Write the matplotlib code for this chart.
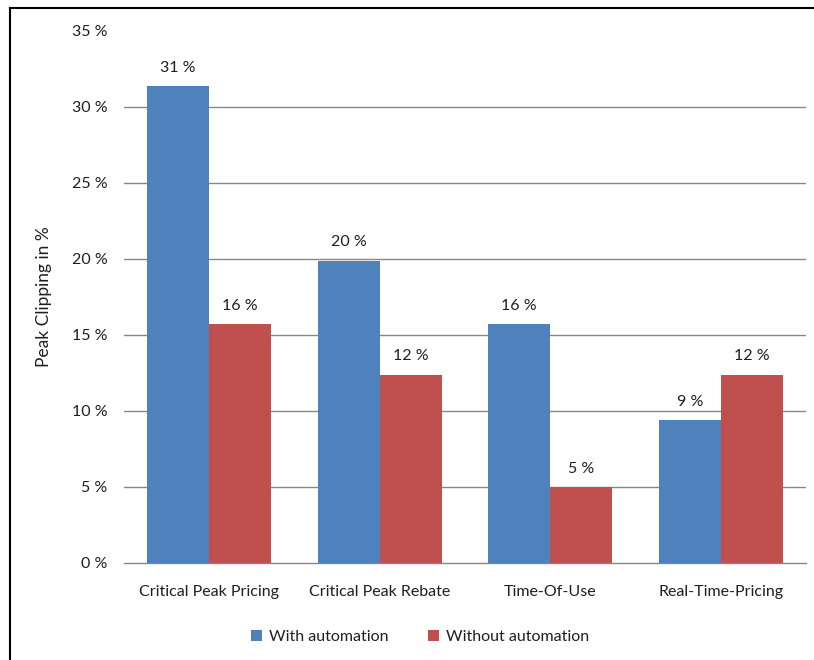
import matplotlib
matplotlib.use("Agg")
import matplotlib.pyplot as plt
from matplotlib.lines import Line2D
from matplotlib.patches import Patch
import numpy as np

plt.rcParams['font.family'] = ['Lato', 'DejaVu Sans']

categories = ["Critical Peak Pricing", "Critical Peak Rebate", "Time-Of-Use", "Real-Time-Pricing"]
with_automation = [31.4, 19.9, 15.7, 9.4]
without_automation = [15.7, 12.4, 5.0, 12.4]
series_names = ["With automation", "Without automation"]
y_ticks = [0, 5, 10, 15, 20, 25, 30, 35]

blue = "#4F81BD"
red = "#C0504D"
text_color = "#1f1f1f"
grid_color = "#868686"

fig = plt.figure(figsize=(8.14, 6.60), dpi=100)
ax = fig.add_axes([124 / 814, (660 - 563) / 660, (806 - 124) / 814, (563 - 31) / 660])

x = np.arange(len(categories))
w = 1 / 2.75
b1 = ax.bar(x - w / 2, with_automation, width=w, color=blue, zorder=3)
b2 = ax.bar(x + w / 2, without_automation, width=w, color=red, zorder=3)

for bars, vals in ((b1, with_automation), (b2, without_automation)):
    for rect, v in zip(bars, vals):
        ax.annotate(f"{v:.0f} %", (rect.get_x() + rect.get_width() / 2, v),
                    xytext=(0, 8), textcoords="offset points",
                    ha="center", va="bottom", fontsize=11.5, color=text_color)

ax.set_xlim(-0.5, len(categories) - 0.5)
ax.set_ylim(0, 35)
ax.set_yticks(y_ticks)
ax.set_yticklabels([f"{t} %" for t in y_ticks])
ax.set_xticks(x)
ax.set_xticklabels(categories)
ax.tick_params(axis="both", length=0, labelsize=11.5, labelcolor=text_color)
ax.tick_params(axis="y", pad=12)
ax.tick_params(axis="x", pad=16)

for t in y_ticks[1:-1]:
    ax.axhline(t, color=grid_color, lw=1.0, zorder=1)

for side in ("top", "right", "left"):
    ax.spines[side].set_visible(False)
ax.spines["bottom"].set_color(grid_color)
ax.spines["bottom"].set_linewidth(1.0)

ax.set_ylabel("Peak Clipping in %", fontsize=12.5, color=text_color, labelpad=14)

handles = [Patch(facecolor=blue, edgecolor="none"), Patch(facecolor=red, edgecolor="none")]
fig.legend(handles, series_names, loc="center", bbox_to_anchor=(420 / 814, 1 - 637 / 660),
           ncol=2, frameon=False, fontsize=11.5, handlelength=0.7, handleheight=0.7,
           handletextpad=0.4, columnspacing=2.5, labelcolor=text_color)

# chart border
fig.add_artist(Line2D([10 / 814, 1.0], [1 - 8 / 660, 1 - 8 / 660], transform=fig.transFigure,
                      color="black", lw=1.5))
fig.add_artist(Line2D([10 / 814, 10 / 814], [0.0, 1 - 8 / 660], transform=fig.transFigure,
                      color="black", lw=1.5))

fig.savefig("out.png", dpi=100)
